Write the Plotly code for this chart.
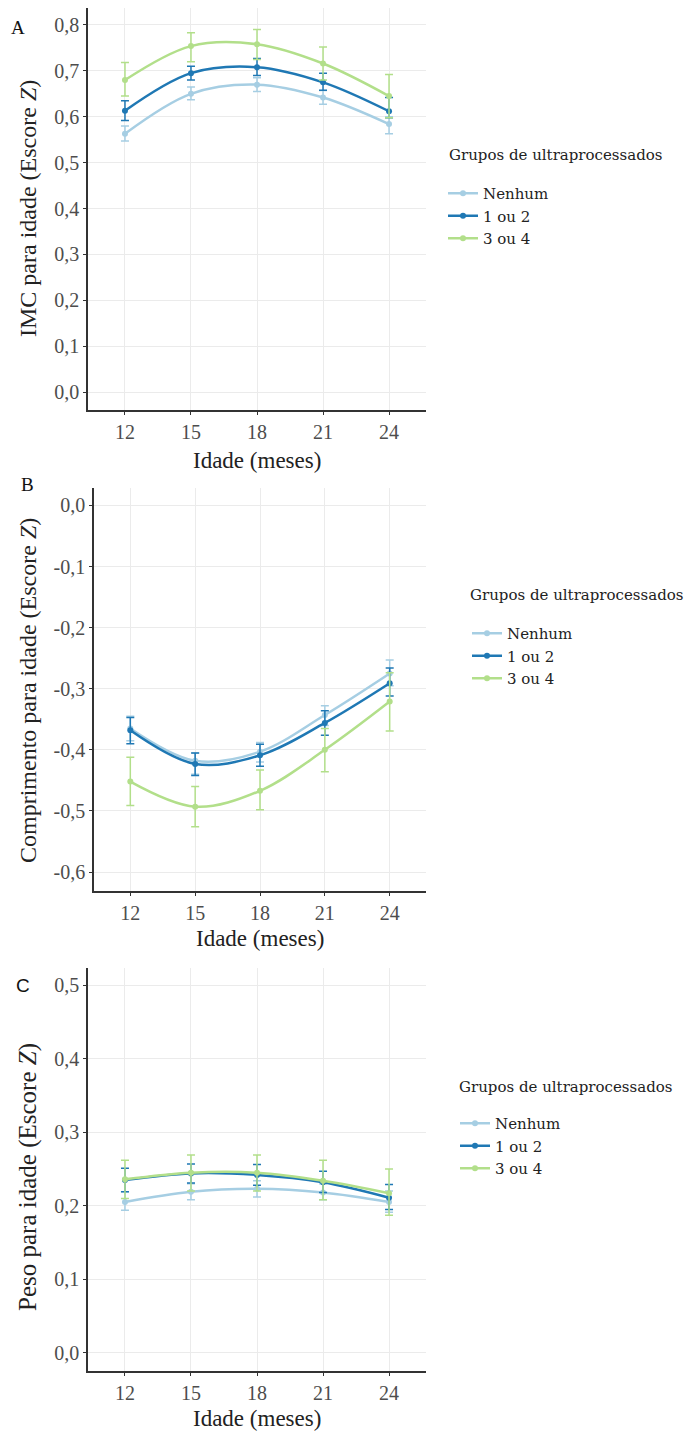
import plotly.graph_objects as go

W, H = 688, 1434

meses = [12, 15, 18, 21, 24]
grupos = ["Nenhum", "1 ou 2", "3 ou 4"]
cores = ["#a6cee3", "#1f78b4", "#b2df8a"]
titulo_legenda = "Grupos de ultraprocessados"
titulo_x = "Idade (meses)"

# Painel A - IMC para idade (média, limite inferior, limite superior)
imc_nenhum = [0.563, 0.650, 0.670, 0.642, 0.584]
imc_nenhum_lo = [0.547, 0.637, 0.655, 0.627, 0.563]
imc_nenhum_hi = [0.580, 0.665, 0.685, 0.657, 0.600]
imc_12 = [0.613, 0.695, 0.708, 0.675, 0.612]
imc_12_lo = [0.592, 0.680, 0.690, 0.658, 0.598]
imc_12_hi = [0.635, 0.710, 0.727, 0.695, 0.642]
imc_34 = [0.680, 0.754, 0.758, 0.716, 0.645]
imc_34_lo = [0.645, 0.720, 0.725, 0.680, 0.598]
imc_34_hi = [0.718, 0.783, 0.790, 0.752, 0.692]

# Painel B - Comprimento para idade
comp_nenhum = [-0.365, -0.418, -0.403, -0.343, -0.275]
comp_nenhum_lo = [-0.385, -0.440, -0.420, -0.360, -0.295]
comp_nenhum_hi = [-0.345, -0.405, -0.388, -0.328, -0.253]
comp_12 = [-0.368, -0.423, -0.409, -0.356, -0.291]
comp_12_lo = [-0.390, -0.442, -0.427, -0.376, -0.312]
comp_12_hi = [-0.347, -0.405, -0.391, -0.336, -0.266]
comp_34 = [-0.452, -0.493, -0.467, -0.400, -0.321]
comp_34_lo = [-0.491, -0.526, -0.498, -0.436, -0.369]
comp_34_hi = [-0.412, -0.460, -0.433, -0.365, -0.274]

# Painel C - Peso para idade
peso_nenhum = [0.205, 0.219, 0.223, 0.218, 0.205]
peso_nenhum_lo = [0.194, 0.208, 0.212, 0.208, 0.191]
peso_nenhum_hi = [0.219, 0.230, 0.234, 0.230, 0.220]
peso_12 = [0.235, 0.244, 0.242, 0.232, 0.211]
peso_12_lo = [0.219, 0.231, 0.228, 0.218, 0.195]
peso_12_hi = [0.251, 0.257, 0.256, 0.247, 0.229]
peso_34 = [0.236, 0.245, 0.245, 0.234, 0.217]
peso_34_lo = [0.210, 0.220, 0.220, 0.208, 0.187]
peso_34_hi = [0.262, 0.269, 0.269, 0.262, 0.250]

imc_ticks = [0.0, 0.1, 0.2, 0.3, 0.4, 0.5, 0.6, 0.7, 0.8]
comp_ticks = [-0.6, -0.5, -0.4, -0.3, -0.2, -0.1, 0.0]
peso_ticks = [0.0, 0.1, 0.2, 0.3, 0.4, 0.5]

paineis = [
    dict(letra="A", titulo="IMC para idade (Escore <i>Z</i>)",
         series=[(imc_nenhum, imc_nenhum_lo, imc_nenhum_hi),
                 (imc_12, imc_12_lo, imc_12_hi),
                 (imc_34, imc_34_lo, imc_34_hi)],
         yticks=imc_ticks, yrange=[-0.039, 0.837]),
    dict(letra="B", titulo="Comprimento para idade (Escore <i>Z</i>)",
         series=[(comp_nenhum, comp_nenhum_lo, comp_nenhum_hi),
                 (comp_12, comp_12_lo, comp_12_hi),
                 (comp_34, comp_34_lo, comp_34_hi)],
         yticks=comp_ticks, yrange=[-0.631, 0.0285]),
    dict(letra="C", titulo="Peso para idade (Escore <i>Z</i>)",
         series=[(peso_nenhum, peso_nenhum_lo, peso_nenhum_hi),
                 (peso_12, peso_12_lo, peso_12_hi),
                 (peso_34, peso_34_lo, peso_34_hi)],
         yticks=peso_ticks, yrange=[-0.025, 0.5237]),
]


def rotulo(v):
    return f"{v:.1f}".replace(".", ",")


# Layout geometry in pixels: (left, right, top, bottom)
caixas = [(88, 426, 8, 410), (94, 426, 488, 891), (88, 426, 968, 1371)]
leg_pos = [(443, 177), (467, 617), (455, 1107)]       # legend box left/top
leg_tit = [(447, 155), (468, 595), (457, 1087)]       # legend title left/center
letras = [(18, 27, "Liberation Serif"), (27, 484, "Liberation Serif"), (23, 985, "Liberation Sans")]
ytit = [(28, 209, 24), (28, 691, 24), (28, 1177, 25)]
xtit = [(257, 460), (260, 938), (257, 1418)]

serif = "Liberation Serif"
legfont = "DejaVu Serif"
fig = go.Figure()
layout = dict(
    width=W, height=H,
    margin=dict(l=0, r=0, t=0, b=0),
    paper_bgcolor="white", plot_bgcolor="white",
    separators=", ",
    font=dict(family=serif, color="#222"),
    annotations=[],
    template="none",
)

for i, p in enumerate(paineis):
    n = "" if i == 0 else str(i + 1)
    xa, ya = "x" + n, "y" + n
    leg = "legend" + n
    l, r, t, b = caixas[i]
    for g, ((m, lo, hi), cor) in enumerate(zip(p["series"], cores)):
        fig.add_trace(go.Scatter(
            x=meses, y=m, name=grupos[g], mode="lines+markers",
            line=dict(color=cor, width=2.5, shape="spline", smoothing=1.0),
            marker=dict(color=cor, size=6),
            error_y=dict(type="data", symmetric=False,
                         array=[h - v for h, v in zip(hi, m)],
                         arrayminus=[v - q for v, q in zip(m, lo)],
                         color=cor, thickness=1.5, width=4),
            xaxis=xa, yaxis=ya, legend=leg, showlegend=True,
        ))
    layout["xaxis" + n] = dict(
        domain=[l / W, r / W], anchor=ya, range=[10.32, 25.68],
        tickvals=meses, ticktext=[str(v) for v in meses],
        showgrid=True, gridcolor="#ebebeb", gridwidth=1,
        showline=True, linecolor="#333", linewidth=1.5,
        ticks="outside", ticklen=3, tickcolor="#333", tickwidth=1,
        tickfont=dict(family=serif, size=20, color="#4d4d4d"),
        zeroline=False, automargin=False,
    )
    layout["yaxis" + n] = dict(
        domain=[1 - b / H, 1 - t / H], anchor=xa, range=p["yrange"],
        tickvals=p["yticks"], ticktext=[rotulo(v) for v in p["yticks"]],
        showgrid=True, gridcolor="#ebebeb", gridwidth=1,
        showline=True, linecolor="#333", linewidth=1.5,
        ticks="outside", ticklen=3, tickcolor="#333", tickwidth=1,
        tickfont=dict(family=serif, size=20, color="#4d4d4d"),
        zeroline=False, automargin=False,
    )
    lx, ly = leg_pos[i]
    layout[leg] = dict(
        x=lx / W, y=1 - ly / H, xanchor="left", yanchor="top",
        font=dict(family=legfont, size=15, color="#222"),
        bgcolor="rgba(0,0,0,0)", itemwidth=30,
    )
    tx, ty = leg_tit[i]
    layout["annotations"].append(dict(
        text=titulo_legenda, x=tx / W, y=1 - ty / H, xref="paper", yref="paper",
        showarrow=False, font=dict(family=legfont, size=15, color="#222"),
        xanchor="left", yanchor="middle"))
    ax, ay, af = letras[i]
    layout["annotations"].append(dict(
        text=p["letra"], x=ax / W, y=1 - ay / H, xref="paper", yref="paper",
        showarrow=False, font=dict(family=af, size=19, color="#111"),
        xanchor="center", yanchor="middle"))
    yx, yy, ys = ytit[i]
    layout["annotations"].append(dict(
        text=p["titulo"], x=yx / W, y=1 - yy / H, xref="paper", yref="paper",
        showarrow=False, textangle=-90, font=dict(family=serif, size=ys, color="#222"),
        xanchor="center", yanchor="middle"))
    xx, xy = xtit[i]
    layout["annotations"].append(dict(
        text=titulo_x, x=xx / W, y=1 - xy / H, xref="paper", yref="paper",
        showarrow=False, font=dict(family=serif, size=23, color="#222"),
        xanchor="center", yanchor="middle"))

fig.update_layout(**layout)
fig.write_html("out.html")
